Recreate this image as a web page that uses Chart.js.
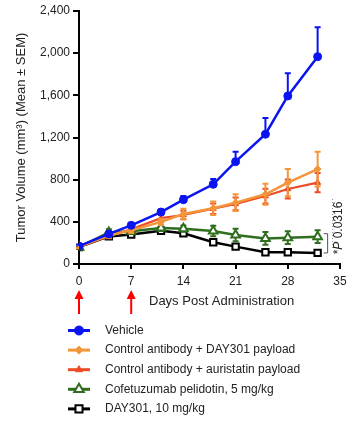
<!DOCTYPE html>
<html><head><meta charset="utf-8">
<script src="https://cdn.jsdelivr.net/npm/chart.js@4"></script>
<style>html,body{margin:0;padding:0;background:#fff}#wrap{width:353px;height:424px;position:relative}</style>
</head><body><div id="wrap"><canvas id="c"></canvas></div>
<script>
// ---- data ----
const days = [0, 4, 7, 11, 14, 18, 21, 25, 28, 32];
const seriesNames = ['Vehicle', 'Control antibody + DAY301 payload', 'Control antibody + auristatin payload', 'Cofetuzumab pelidotin, 5 mg/kg', 'DAY301, 10 mg/kg'];
const vehicle    = [170, 285, 367, 493, 610, 756, 971, 1231, 1594, 1967];
const vehicleSem = [15, 20, 20, 25, 35, 50, 95, 155, 215, 280];
const ctrlDay301    = [165, 270, 320, 400, 474, 529, 582, 661, 772, 901];
const ctrlDay301Sem = [15, 20, 25, 30, 50, 65, 80, 100, 130, 165];
const ctrlAuri    = [165, 265, 330, 435, 465, 525, 570, 645, 712, 772];
const ctrlAuriSem = [15, 20, 25, 30, 40, 50, 60, 70, 90, 92];
const cofetuzumab    = [160, 300, 310, 342, 335, 313, 275, 243, 250, 259];
const cofetuzumabSem = [15, 30, 25, 30, 30, 50, 60, 60, 60, 60];
const day301    = [160, 262, 280, 315, 291, 206, 165, 111, 111, 105];
const day301Sem = [15, 20, 20, 25, 25, 20, 15, 10, 10, 10];
const xTickStep = 7, xMax = 35;
const yTickStep = 400, yMax = 2400;
const doseDays = [0, 7];
const pLabel = ['*', 'P', ' 0.0316'];
const xTitle = 'Days Post Administration';
const yTitle = 'Tumor Volume (mm\u00B3) (Mean \u00B1 SEM)';

const FONT = "'Liberation Sans', Arial, sans-serif";
const pts = v => days.map((d, i) => ({x: d, y: v[i]}));

const colors = ['#0a14f0', '#f39539', '#ee4a26', '#2f6e1f', '#000000'];

const datasets = [
  {label: seriesNames[0], data: pts(vehicle), sem: vehicleSem, semUpOnly: true, borderColor: colors[0], backgroundColor: colors[0], borderWidth: 2.5, pointStyle: 'circle', pointRadius: 4, pointBorderWidth: 1, pointBackgroundColor: colors[0]},
  {label: seriesNames[1], data: pts(ctrlDay301), sem: ctrlDay301Sem, borderColor: colors[1], backgroundColor: colors[1], borderWidth: 2.5, pointStyle: 'rectRot', pointRadius: 3.5, pointBorderWidth: 1, pointBackgroundColor: colors[1]},
  {label: seriesNames[2], data: pts(ctrlAuri), sem: ctrlAuriSem, borderColor: colors[2], backgroundColor: colors[2], borderWidth: 2.2, pointStyle: 'triangle', pointRadius: 3.5, pointBorderWidth: 1, pointBackgroundColor: colors[2]},
  {label: seriesNames[3], data: pts(cofetuzumab), sem: cofetuzumabSem, borderColor: colors[3], backgroundColor: '#ffffff', borderWidth: 2.5, pointStyle: 'triangle', pointRadius: 5, pointBorderWidth: 2, pointBackgroundColor: '#ffffff'},
  {label: seriesNames[4], data: pts(day301), sem: day301Sem, borderColor: colors[4], backgroundColor: '#ffffff', borderWidth: 2.5, pointStyle: 'rect', pointRadius: 4.5, pointBorderWidth: 2, pointBackgroundColor: '#ffffff'}
];

const errorBars = {
  id: 'errorBars',
  beforeDatasetDraw(chart, args) {
    const ds = chart.data.datasets[args.index];
    if (!ds.sem) return;
    const {ctx, scales: {x, y}} = chart;
    ctx.save();
    ctx.strokeStyle = ds.borderColor;
    ctx.lineWidth = 2;
    ds.data.forEach((pt, i) => {
      const e = ds.sem[i];
      if (!e) return;
      const px = x.getPixelForValue(pt.x);
      const yTop = y.getPixelForValue(pt.y + e);
      const yBot = y.getPixelForValue(ds.semUpOnly ? pt.y : pt.y - e);
      ctx.beginPath();
      ctx.moveTo(px, yTop); ctx.lineTo(px, yBot);
      ctx.moveTo(px - 3, yTop); ctx.lineTo(px + 3, yTop);
      if (!ds.semUpOnly) { ctx.moveTo(px - 3, yBot); ctx.lineTo(px + 3, yBot); }
      ctx.stroke();
    });
    ctx.restore();
  }
};

const extras = {
  id: 'extras',
  afterDraw(chart) {
    const {ctx, scales: {x, y}} = chart;
    ctx.save();
    // dose arrows
    ctx.strokeStyle = '#ff0000'; ctx.fillStyle = '#ff0000'; ctx.lineWidth = 2;
    doseDays.forEach(d => {
      const px = x.getPixelForValue(d);
      ctx.beginPath(); ctx.moveTo(px, 297); ctx.lineTo(px, 314); ctx.stroke();
      ctx.beginPath(); ctx.moveTo(px, 290); ctx.lineTo(px - 4.5, 299); ctx.lineTo(px + 4.5, 299); ctx.closePath(); ctx.fill();
    });
    // x title
    ctx.fillStyle = '#222'; ctx.font = '13px ' + FONT;
    ctx.textAlign = 'left'; ctx.textBaseline = 'middle';
    ctx.fillText(xTitle, 149, 301);
    // bracket and p-value
    const lastX = x.getPixelForValue(days[days.length - 1]);
    const yG = y.getPixelForValue(cofetuzumab[cofetuzumab.length - 1]);
    const yB = y.getPixelForValue(day301[day301.length - 1]);
    ctx.strokeStyle = '#555'; ctx.lineWidth = 1;
    ctx.beginPath();
    ctx.moveTo(lastX + 6, yG - 3); ctx.lineTo(lastX + 10, yG - 3); ctx.lineTo(lastX + 10, yB + 0);
    ctx.lineTo(lastX + 6, yB + 0);
    ctx.stroke();
    ctx.setLineDash([1, 2]); ctx.strokeStyle = '#888';
    ctx.beginPath(); ctx.moveTo(lastX + 15, 199); ctx.lineTo(lastX + 15, 250); ctx.stroke();
    ctx.setLineDash([]);
    ctx.translate(lastX + 21, 228);
    ctx.rotate(-Math.PI / 2);
    ctx.fillStyle = '#222'; ctx.textBaseline = 'middle';
    const fonts = ['12px ' + FONT, 'italic 12px ' + FONT, '12px ' + FONT];
    let total = 0;
    pLabel.forEach((s, i) => { ctx.font = fonts[i]; total += ctx.measureText(s).width; });
    let cx = -total / 2;
    ctx.textAlign = 'left';
    pLabel.forEach((s, i) => { ctx.font = fonts[i]; ctx.fillText(s, cx, 0); cx += ctx.measureText(s).width; });
    ctx.setTransform(1, 0, 0, 1, 0, 0);
    // legend
    const helpers = Chart.helpers;
    chart.data.datasets.forEach((ds, i) => {
      const ly = 330.5 + i * 19.6;
      ctx.strokeStyle = ds.borderColor; ctx.lineWidth = 3;
      ctx.beginPath(); ctx.moveTo(68, ly); ctx.lineTo(90, ly); ctx.stroke();
      ctx.fillStyle = ds.pointBackgroundColor; ctx.strokeStyle = ds.borderColor; ctx.lineWidth = ds.pointBorderWidth;
      if (helpers && helpers.drawPoint) {
        helpers.drawPoint(ctx, {pointStyle: ds.pointStyle, rotation: 0, radius: ds.pointRadius + 0.5, borderWidth: ds.pointBorderWidth}, 79, ly);
      }
      ctx.fillStyle = '#222'; ctx.font = '12px ' + FONT; ctx.textAlign = 'left'; ctx.textBaseline = 'middle';
      ctx.fillText(ds.label, 105, ly);
    });
    ctx.restore();
  }
};

new Chart(document.getElementById('c'), {
  type: 'line',
  data: {datasets},
  options: {
    responsive: true, maintainAspectRatio: false, animation: false,
    layout: {padding: {left: 0, right: 13, top: 11, bottom: 0}},
    plugins: {legend: {display: false}, tooltip: {enabled: false}},
    scales: {
      x: {
        type: 'linear', min: 0, max: xMax,
        ticks: {stepSize: xTickStep, color: '#222', font: {family: FONT, size: 12}, padding: 5, maxRotation: 0},
        grid: {drawOnChartArea: false, drawTicks: true, tickLength: 5, color: '#000', lineWidth: 2},
        border: {display: true, color: '#000', width: 2},
        afterFit(s) { s.height = 160; }
      },
      y: {
        min: 0, max: yMax,
        ticks: {stepSize: yTickStep, color: '#222', font: {family: FONT, size: 12}, padding: 3},
        grid: {drawOnChartArea: false, drawTicks: true, tickLength: 6, color: '#000', lineWidth: 2},
        border: {display: true, color: '#000', width: 2},
        title: {display: true, text: yTitle, color: '#222', font: {family: FONT, size: 13}, padding: {top: 14, bottom: 0}},
        afterFit(s) { s.width = 79; }
      }
    }
  },
  plugins: [errorBars, extras]
});
</script></body></html>
